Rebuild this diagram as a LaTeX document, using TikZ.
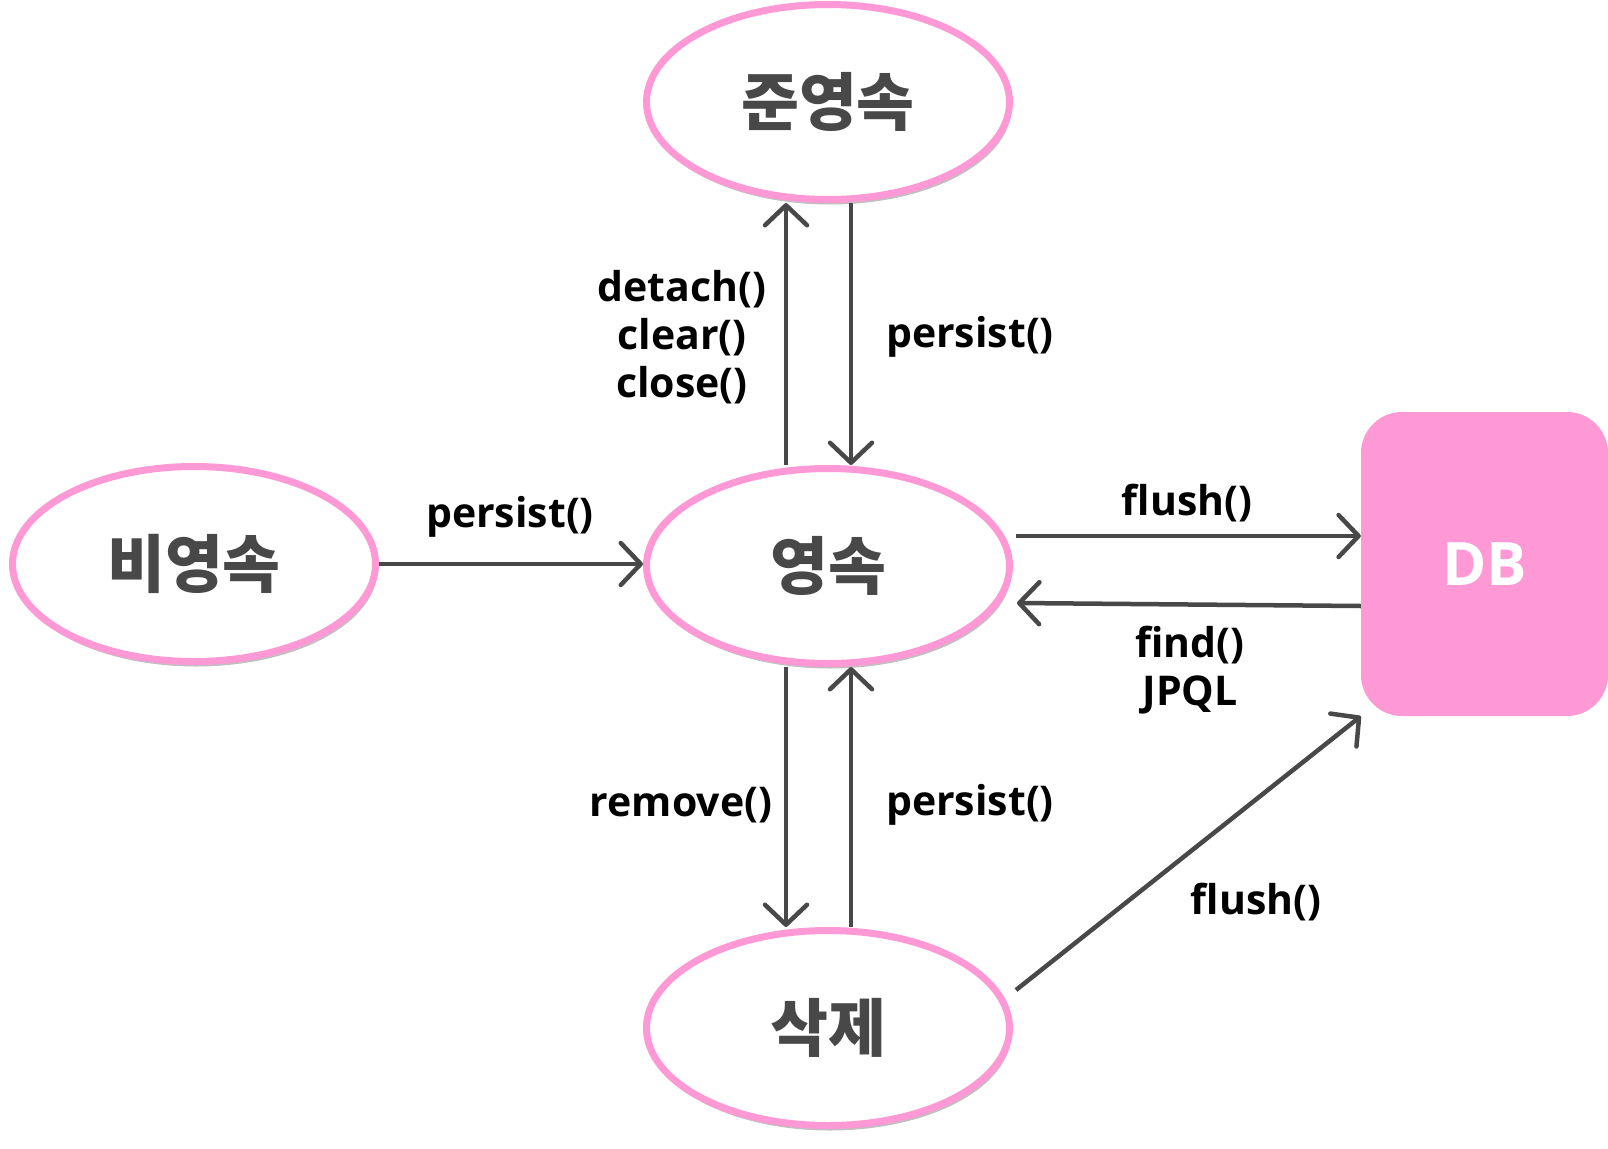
\documentclass[tikz,border=0pt]{standalone}
\usepackage{fontspec}
\setmainfont{Open Sans}
\newfontfamily\krfont{Noto Sans CJK KR}
\usetikzlibrary{shapes.geometric,arrows.meta,shadows,calc}
\definecolor{pinkc}{HTML}{FF99D6}
\definecolor{darkg}{HTML}{484848}
\tikzset{
  state/.style={ellipse, draw=pinkc, line width=7pt, fill=white, minimum width=363pt, minimum height=195pt, inner sep=0pt,
    font=\krfont\bfseries\fontsize{63}{63}\selectfont, text=darkg,
    drop shadow={shadow xshift=2pt, shadow yshift=-5pt, opacity=0.25, fill=black}},
  arr/.style={draw=darkg, line width=4.5pt, -{Straight Barb[length=20pt, width=42pt, round]}},
  lbl/.style={font=\bfseries\fontsize{41}{48}\selectfont, text=black, align=center, inner sep=0pt}
}
\begin{document}
\begin{tikzpicture}[x=1pt,y=-1pt]
\useasboundingbox (0,0) rectangle (1608,1148);
\node[state] (jun) at (828,102) {준영속};
\node[state] (yeong) at (828,566) {영속};
\node[state] (bi) at (194,564) {비영속};
\node[state] (sak) at (828,1028) {삭제};
\node[rectangle, fill=pinkc, rounded corners=41pt, minimum width=247pt, minimum height=304pt, inner sep=0pt,
  font=\bfseries\fontsize{60}{60}\selectfont, text=white] (db) at (1484.5,564) {DB};

\draw[arr] ([xshift=-42pt]yeong.north) -- ([xshift=-42pt]jun.south);
\draw[arr] ([xshift=23pt]jun.south) -- ([xshift=23pt]yeong.north);
\draw[arr] (bi.east) -- (bi.east -| yeong.west);
\draw[arr] ($(yeong.east)+(3,-30)$) -- ($(db.west)+(0,-28)$);
\draw[arr] ($(db.west)+(0,42)$) -- ($(yeong.east)+(4,37)$);
\draw[arr] ([xshift=-42pt]yeong.south) -- ([xshift=-42pt]sak.north);
\draw[arr] ([xshift=23pt]sak.north) -- ([xshift=23pt]yeong.south);
\draw[arr] ($(sak.east)+(3,-38)$) -- (db.south west);

\node[lbl] (l1) at (682,337) {detach()\\clear()\\close()};
\node[lbl] (l2) at (970,337) {persist()};
\node[lbl] (l3) at (510,517) {persist()};
\node[lbl] (l4) at (1187,503) {flush()};
\node[lbl] (l5) at (1190,670) {find()\\JPQL};
\node[lbl] (l6) at (681,805) {remove()};
\node[lbl] (l7) at (970,805) {persist()};
\node[lbl] (l8) at (1256,902) {flush()};
\end{tikzpicture}
\end{document}
